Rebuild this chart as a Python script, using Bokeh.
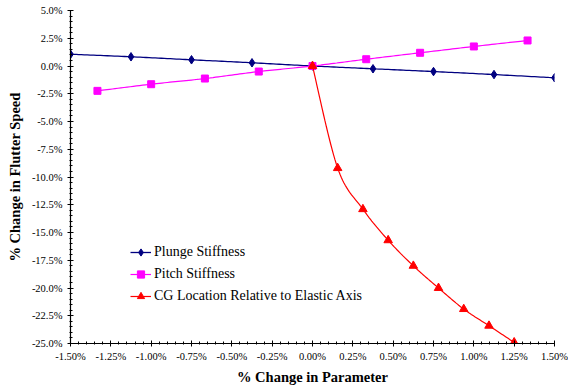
import numpy as np
from bokeh.plotting import figure
from bokeh.models import (FixedTicker, PrintfTickFormatter, Range1d, Legend, LegendItem)
from bokeh.embed import file_html
from bokeh.resources import INLINE

# Sensitivity of flutter speed to parameter changes (all values in percent)
plunge_x = [-1.5, -1.125, -0.75, -0.375, 0.0, 0.375, 0.75, 1.125, 1.5]
plunge_y = [1.06, 0.83, 0.56, 0.29, 0.0, -0.25, -0.50, -0.77, -1.06]

pitch_x = [-1.333, -1.0, -0.667, -0.333, 0.0, 0.333, 0.667, 1.0, 1.333]
pitch_y = [-2.24, -1.64, -1.13, -0.50, 0.0, 0.61, 1.19, 1.76, 2.30]

cg_x = [0.0, 0.156, 0.3125, 0.469, 0.625, 0.781, 0.9375, 1.094, 1.25]
cg_y = [0.0, -9.2, -12.9, -15.7, -18.0, -20.0, -21.9, -23.4, -24.9]

x_ticks = [-1.5, -1.25, -1.0, -0.75, -0.5, -0.25, 0.0, 0.25, 0.5, 0.75, 1.0, 1.25, 1.5]
y_ticks = [5.0, 2.5, 0.0, -2.5, -5.0, -7.5, -10.0, -12.5, -15.0, -17.5, -20.0, -22.5, -25.0]

FONT = "Times"


def smooth(xs, ys, steps=20):
    """Cubic Bezier smoothing through the points (Catmull-Rom style)."""
    px = np.asarray(xs, float)
    py = np.asarray(ys, float)
    n = len(px)
    out_x, out_y = [px[0]], [py[0]]
    t = np.linspace(0, 1, steps + 1)[1:]
    for i in range(n - 1):
        i0, i3 = max(i - 1, 0), min(i + 2, n - 1)
        c1x = px[i] + (px[i + 1] - px[i0]) / 6.0
        c1y = py[i] + (py[i + 1] - py[i0]) / 6.0
        c2x = px[i + 1] - (px[i3] - px[i]) / 6.0
        c2y = py[i + 1] - (py[i3] - py[i]) / 6.0
        bx = ((1 - t) ** 3) * px[i] + 3 * ((1 - t) ** 2) * t * c1x + 3 * (1 - t) * t ** 2 * c2x + t ** 3 * px[i + 1]
        by = ((1 - t) ** 3) * py[i] + 3 * ((1 - t) ** 2) * t * c1y + 3 * (1 - t) * t ** 2 * c2y + t ** 3 * py[i + 1]
        out_x.extend(bx.tolist())
        out_y.extend(by.tolist())
    return out_x, out_y


p = figure(width=568, height=387, output_backend="svg", toolbar_location=None,
           x_range=Range1d(-1.5, 1.5), y_range=Range1d(-25, 5),
           min_border_left=70, min_border_right=14, min_border_top=10, min_border_bottom=44,
           background_fill_color="white", border_fill_color="white")
p.outline_line_color = None
p.xgrid.visible = False
p.ygrid.visible = False

navy, magenta, red = "#000080", "#FF00FF", "#FF0000"

sx, sy = smooth(plunge_x, plunge_y)
l1 = p.line(sx, sy, line_color=navy, line_width=1.3)
m1 = p.scatter(plunge_x, plunge_y, marker="diamond", size=8.5, line_width=1,
               fill_color=navy, line_color=navy)

sx, sy = smooth(pitch_x, pitch_y)
l2 = p.line(sx, sy, line_color=magenta, line_width=1.2)
m2 = p.scatter(pitch_x, pitch_y, marker="square", size=7, fill_color=magenta, line_color=magenta)

sx, sy = smooth(cg_x, cg_y)
l3 = p.line(sx, sy, line_color=red, line_width=1.2)
m3 = p.scatter(cg_x, cg_y, marker="triangle", size=8.5, fill_color=red, line_color=red)

legend = Legend(items=[
    LegendItem(label="Plunge Stiffness", renderers=[l1, m1]),
    LegendItem(label="Pitch Stiffness", renderers=[l2, m2]),
    LegendItem(label="CG Location Relative to Elastic Axis", renderers=[l3, m3]),
], location=(60, 38), padding=0, margin=0, spacing=4, glyph_width=21, glyph_height=18,
    label_height=18, label_standoff=3, border_line_alpha=0, background_fill_alpha=0,
    label_text_font=FONT, label_text_font_size="14px", label_text_color="black")
p.add_layout(legend, "center")

# Axes
for ax in (p.xaxis[0], p.yaxis[0]):
    ax.axis_line_color = "black"
    ax.axis_line_width = 1.2
    ax.major_tick_line_color = "black"
    ax.minor_tick_line_color = "black"
    ax.major_tick_in = 3
    ax.major_tick_out = 3
    ax.minor_tick_in = 2
    ax.minor_tick_out = 1
    ax.major_label_text_font = FONT
    ax.major_label_text_font_size = "10.5px"
    ax.major_label_text_color = "black"
    ax.axis_label_text_font = FONT
    ax.axis_label_text_font_style = "bold"
    ax.axis_label_text_font_size = "14.5px"
    ax.axis_label_text_color = "black"

p.xaxis.ticker = FixedTicker(ticks=x_ticks,
                             minor_ticks=[round(-1.5 + 0.05 * i, 3) for i in range(61)])
p.yaxis.ticker = FixedTicker(ticks=y_ticks,
                             minor_ticks=[round(-25 + 0.5 * i, 2) for i in range(61)])
p.xaxis.formatter = PrintfTickFormatter(format="%.2f%%")
p.yaxis.formatter = PrintfTickFormatter(format="%.1f%%")
p.xaxis.axis_label = "% Change in Parameter"
p.yaxis.axis_label = "% Change in Flutter Speed"
p.xaxis.major_label_standoff = 4
p.yaxis.major_label_standoff = 5
p.xaxis.axis_label_standoff = 4
p.yaxis.axis_label_standoff = 6

open("out.html", "w").write(file_html(p, INLINE))
